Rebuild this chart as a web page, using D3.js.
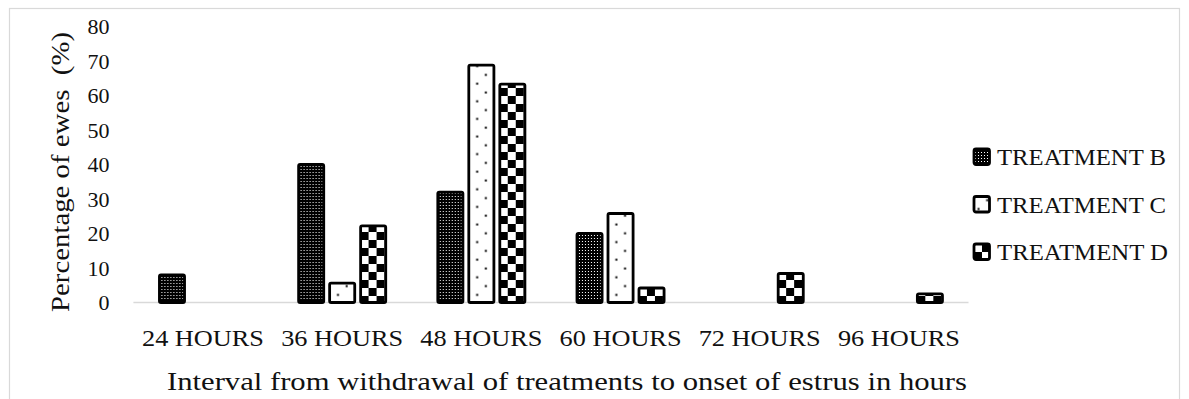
<!DOCTYPE html>
<html>
<head>
<meta charset="utf-8">
<script src="https://cdn.jsdelivr.net/npm/d3@7"></script>
<style>
  html, body { margin: 0; padding: 0; background: #fff; }
  svg text { font-family: "Palatino Linotype", "Book Antiqua", Palatino, "Liberation Serif", serif; fill: #111; }
</style>
</head>
<body>
<svg id="chart" width="1189" height="399"></svg>
<script>
// Onset of estrus after withdrawal of treatments (% of ewes)
const categories = ["24 HOURS", "36 HOURS", "48 HOURS", "60 HOURS", "72 HOURS", "96 HOURS"];
const seriesNames = ["TREATMENT B", "TREATMENT C", "TREATMENT D"];
const treatmentB = [8, 40, 32, 20, null, null];
const treatmentC = [null, 5.6, 68.8, 25.8, null, null];
const treatmentD = [null, 22.2, 63.3, 4.2, 8.4, 2.5];
const yTicks = [0, 10, 20, 30, 40, 50, 60, 70, 80];
const yTitle = "Percentage of ewes\u00a0 (%)";
const xTitle = "Interval from withdrawal of treatments to onset of estrus in hours";

const seriesValues = [treatmentB, treatmentC, treatmentD];
const patternIds = ["pat-b", "pat-c", "pat-d"];

const svg = d3.select("#chart");

// outer chart border
svg.append("rect")
  .attr("x", 9.5).attr("y", 8.5)
  .attr("width", 1170).attr("height", 400)
  .attr("fill", "none").attr("stroke", "#d9d9d9").attr("stroke-width", 1.2);

// fill patterns
const defs = svg.append("defs");

const pb = defs.append("pattern").attr("id", "pat-b")
  .attr("patternUnits", "userSpaceOnUse").attr("width", 3).attr("height", 3);
pb.append("rect").attr("width", 3).attr("height", 3).attr("fill", "#000");
pb.append("rect").attr("x", 1).attr("y", 1).attr("width", 1).attr("height", 1).attr("fill", "#fff");

const pc = defs.append("pattern").attr("id", "pat-c")
  .attr("patternUnits", "userSpaceOnUse").attr("width", 17.4).attr("height", 17.6);
pc.append("rect").attr("width", 17.4).attr("height", 17.6).attr("fill", "#fff");
pc.append("rect").attr("x", 3.5).attr("y", 3.5).attr("width", 2).attr("height", 2).attr("fill", "#000");
pc.append("rect").attr("x", 12.2).attr("y", 12.3).attr("width", 2).attr("height", 2).attr("fill", "#000");

const pd = defs.append("pattern").attr("id", "pat-d")
  .attr("patternUnits", "userSpaceOnUse").attr("width", 16).attr("height", 16);
pd.append("rect").attr("width", 16).attr("height", 16).attr("fill", "#fff");
pd.append("rect").attr("width", 8).attr("height", 8).attr("fill", "#000");
pd.append("rect").attr("x", 8).attr("y", 8).attr("width", 8).attr("height", 8).attr("fill", "#000");

// scales
const x0 = d3.scaleBand().domain(categories).range([133.4, 968.5]).padding(0);
const groupW = 93;
const x1 = d3.scaleBand().domain(seriesNames)
  .range([(x0.bandwidth() - groupW) / 2, (x0.bandwidth() + groupW) / 2])
  .paddingInner(0.1).paddingOuter(0.05);
const y = d3.scaleLinear().domain([0, 80]).range([302.5, 26.5]);

// baseline
svg.append("line")
  .attr("x1", x0.range()[0]).attr("x2", x0.range()[1])
  .attr("y1", y(0)).attr("y2", y(0))
  .attr("stroke", "#d9d9d9").attr("stroke-width", 1.5);

// y axis
const yAxis = svg.append("g")
  .attr("transform", `translate(${x0.range()[0]},0)`)
  .call(d3.axisLeft(y).tickValues(yTicks).tickSize(0).tickPadding(24));
yAxis.select(".domain").remove();
yAxis.selectAll("text").style("font-size", "22px").attr("fill", "#111");

// x axis
const xAxis = svg.append("g")
  .attr("transform", `translate(0,${y(0)})`)
  .call(d3.axisBottom(x0).tickSize(0).tickPadding(27));
xAxis.select(".domain").remove();
xAxis.selectAll("text")
  .style("font-size", "23px").attr("fill", "#111")
  .attr("textLength", 122).attr("lengthAdjust", "spacingAndGlyphs");

// bars
const sw = 2.8;
const rows = categories.map((c, i) => ({
  cat: c,
  vals: seriesNames.map((s, k) => ({ key: s, k, v: seriesValues[k][i] }))
}));

const groups = svg.append("g").selectAll("g")
  .data(rows).join("g")
  .attr("transform", d => `translate(${x0(d.cat)},0)`);

groups.selectAll("rect")
  .data(d => d.vals.filter(e => e.v !== null && e.v > 0))
  .join("rect")
  .attr("x", d => x1(d.key) + sw / 2)
  .attr("width", x1.bandwidth() - sw)
  .attr("y", d => y(d.v))
  .attr("height", d => y(0) - y(d.v))
  .attr("rx", 1.5)
  .attr("fill", d => `url(#${patternIds[d.k]})`)
  .attr("stroke", "#000")
  .attr("stroke-width", sw);

// legend
const legendY = [157, 204.5, 252];
const legend = svg.append("g").selectAll("g")
  .data(seriesNames).join("g")
  .attr("transform", (d, i) => `translate(974,${legendY[i]})`);
legend.append("rect")
  .attr("x", 0).attr("y", -8)
  .attr("width", 15.5).attr("height", 15.5)
  .attr("rx", 2)
  .attr("fill", (d, i) => `url(#${patternIds[i]})`)
  .attr("stroke", "#000").attr("stroke-width", 2.8);
legend.append("text")
  .attr("x", 23).attr("y", 8)
  .style("font-size", "23px")
  .attr("textLength", (d, i) => i === 2 ? 171 : 169)
  .attr("lengthAdjust", "spacingAndGlyphs")
  .text(d => d);

// axis titles
svg.append("text")
  .attr("transform", "translate(69,172) rotate(-90)")
  .attr("text-anchor", "middle")
  .style("font-size", "25px")
  .attr("textLength", 280).attr("lengthAdjust", "spacingAndGlyphs")
  .text(yTitle);

svg.append("text")
  .attr("x", 567).attr("y", 389.5)
  .attr("text-anchor", "middle")
  .style("font-size", "26px")
  .attr("textLength", 800).attr("lengthAdjust", "spacingAndGlyphs")
  .text(xTitle);
</script>
</body>
</html>
